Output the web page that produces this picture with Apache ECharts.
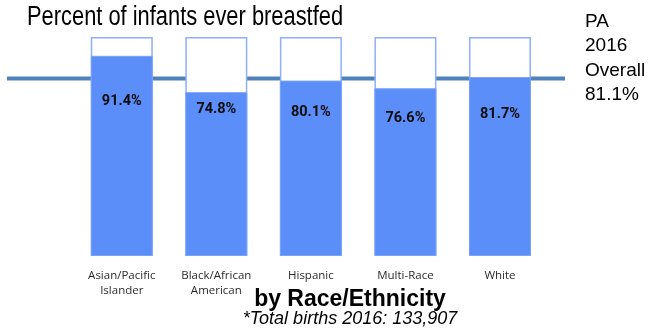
<!DOCTYPE html>
<html>
<head>
<meta charset="utf-8">
<script src="https://cdn.jsdelivr.net/npm/echarts@6/dist/echarts.min.js"></script>
<style>
  html, body { margin: 0; padding: 0; background: #fff; }
  #chart { width: 651px; height: 332px; }
</style>
</head>
<body>
<div id="chart"></div>
<script>
// Breastfeeding initiation by race/ethnicity, Pennsylvania 2016
const categories = ['Asian/Pacific\nIslander', 'Black/African\nAmerican', 'Hispanic', 'Multi-Race', 'White'];
const everBreastfed = [91.4, 74.8, 80.1, 76.6, 81.7];
const fullScale = [100, 100, 100, 100, 100];
const stateOverall = 81.1;

// vertical placement of each value label inside its bar (px below bar top)
const labelDrop = [46, 17, 32, 30, 37];

const BLUE = '#5B8EF8';
const OUTLINE = '#8DB0F7';
const REF_LINE = '#4F81BD';

const chart = echarts.init(document.getElementById('chart'), null, { renderer: 'canvas' });

const barData = everBreastfed.map((v, i) => ({
  value: v,
  label: { position: ['50%', labelDrop[i]] }
}));

chart.setOption({
  animation: false,
  backgroundColor: '#ffffff',
  grid: [
    { left: 74.5, right: 103.75, top: 37, bottom: 76 },
    { left: 7, right: 86, top: 37, bottom: 76 }
  ],
  xAxis: [
    {
      type: 'category', gridIndex: 0, data: categories,
      axisLine: { show: false }, axisTick: { show: false },
      axisLabel: {
        margin: 12, lineHeight: 15, color: '#2b2b2b',
        fontFamily: 'Open Sans', fontSize: 11.5, interval: 0
      }
    },
    { type: 'value', gridIndex: 1, min: 0, max: 1, show: false }
  ],
  yAxis: [
    { type: 'value', gridIndex: 0, min: 0, max: 100, show: false },
    { type: 'value', gridIndex: 1, min: 0, max: 100, show: false }
  ],
  series: [
    {
      name: 'PA 2016 overall',
      type: 'line', xAxisIndex: 1, yAxisIndex: 1, z: 1,
      data: [[0, stateOverall], [1, stateOverall]],
      symbol: 'none', silent: true,
      lineStyle: { color: REF_LINE, width: 4 }
    },
    {
      name: 'All births',
      type: 'bar', z: 3, barWidth: 62,
      data: fullScale,
      itemStyle: { color: '#ffffff', borderColor: OUTLINE, borderWidth: 1.5 },
      silent: true
    },
    {
      name: 'Ever breastfed',
      type: 'bar', z: 4, barWidth: 62, barGap: '-100%',
      data: barData,
      itemStyle: { color: BLUE, borderColor: '#78A2F8', borderWidth: 1 },
      label: {
        show: true,
        align: 'center', verticalAlign: 'middle',
        formatter: p => p.value.toFixed(1) + '%',
        fontFamily: 'Roboto', fontWeight: 'bold', fontSize: 14.5, color: '#0d0d0d'
      }
    }
  ],
  graphic: [
    {
      type: 'text', x: 27, y: 18, scaleX: 0.81, z: 10,
      style: {
        text: 'Percent of infants ever breastfed',
        font: '27px "Liberation Sans", Arial, sans-serif',
        fill: '#000', verticalAlign: 'middle'
      }
    },
    { type: 'text', x: 585, y: 21.7, style: { text: 'PA', font: '19px "Liberation Sans", Arial, sans-serif', fill: '#000', verticalAlign: 'middle' } },
    { type: 'text', x: 585, y: 46.2, style: { text: '2016', font: '19px "Liberation Sans", Arial, sans-serif', fill: '#000', verticalAlign: 'middle' } },
    { type: 'text', x: 585, y: 70.7, style: { text: 'Overall', font: '19px "Liberation Sans", Arial, sans-serif', fill: '#000', verticalAlign: 'middle' } },
    { type: 'text', x: 585, y: 95.2, style: { text: stateOverall.toFixed(1) + '%', font: '19px "Liberation Sans", Arial, sans-serif', fill: '#000', verticalAlign: 'middle' } },
    {
      type: 'text', x: 350, y: 299.5,
      style: {
        text: 'by Race/Ethnicity',
        font: 'bold 23px "Liberation Sans", Arial, sans-serif',
        fill: '#000', align: 'center', verticalAlign: 'middle'
      }
    },
    {
      type: 'text', x: 350, y: 318.7,
      style: {
        text: '*Total births 2016: 133,907',
        font: 'italic 18px "Liberation Sans", Arial, sans-serif',
        fill: '#000', align: 'center', verticalAlign: 'middle'
      }
    }
  ]
});
</script>
</body>
</html>
